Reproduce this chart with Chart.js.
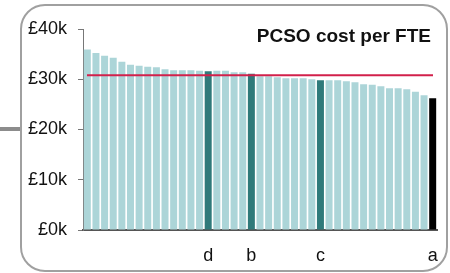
<!DOCTYPE html>
<html>
<head>
<meta charset="utf-8">
<script src="https://cdn.jsdelivr.net/npm/chart.js@4"></script>
<style>
  html, body { margin: 0; padding: 0; background: #fff; }
  #wrap { width: 450px; height: 273px; }
</style>
</head>
<body>
<div id="wrap"><canvas id="costChart" width="450" height="273"></canvas></div>
<script>
// PCSO cost per FTE, £ thousands, one bar per force (sorted high to low)
const forceLabels = ['', '', '', '', '', '', '', '', '', '', '', '', '', '', 'd',
  '', '', '', '', 'b', '', '', '', '', '', '', '', 'c', '', '', '', '', '', '', '', '', '', '', '', '', 'a'];
const costPerFte = [35.9, 35.2, 34.7, 34.3, 33.5, 32.9, 32.7, 32.5, 32.4, 32.0,
  31.8, 31.8, 31.8, 31.7, 31.6, 31.7, 31.7, 31.4, 31.4, 31.1,
  30.6, 30.6, 30.4, 30.2, 30.2, 30.2, 30.0, 29.8, 29.8, 29.8,
  29.6, 29.4, 29.0, 28.9, 28.6, 28.2, 28.2, 28.0, 27.5, 26.8, 26.2];
const averageCost = 30.8;
const yTicks = [0, 10, 20, 30, 40];
const chartTitle = 'PCSO cost per FTE';

const lightBar = '#acd5d8';
const darkBar = '#2f7a7a';

const barColors = forceLabels.map(function(lbl) {
  if (lbl === 'a') return '#000000';
  if (lbl !== '') return darkBar;
  return lightBar;
});

// frame, side connector, title and average line
const decorPlugin = {
  id: 'decor',
  beforeDraw: function(chart) {
    const ctx = chart.ctx;
    ctx.save();
    ctx.fillStyle = '#8c8c8c';
    ctx.fillRect(0, 127, 21, 4);
    ctx.strokeStyle = '#a0a0a0';
    ctx.lineWidth = 2;
    ctx.beginPath();
    ctx.roundRect(21, 5, 426, 266, 24);
    ctx.stroke();
    ctx.restore();
  },
  afterDatasetsDraw: function(chart) {
    const ctx = chart.ctx;
    const area = chart.chartArea;
    const y = chart.scales.y.getPixelForValue(averageCost);
    ctx.save();
    ctx.strokeStyle = '#d2204b';
    ctx.lineWidth = 2;
    ctx.beginPath();
    ctx.moveTo(area.left + 4, y);
    ctx.lineTo(area.right - 4, y);
    ctx.stroke();

    ctx.fillStyle = '#111';
    ctx.font = 'bold 19px "Liberation Sans", Arial, sans-serif';
    ctx.textAlign = 'right';
    ctx.textBaseline = 'middle';
    ctx.fillText(chartTitle, 431, 37);
    ctx.restore();
  }
};

new Chart(document.getElementById('costChart'), {
  type: 'bar',
  data: {
    labels: forceLabels,
    datasets: [{
      data: costPerFte,
      backgroundColor: barColors,
      borderWidth: 0,
      barPercentage: 0.81,
      categoryPercentage: 1
    }]
  },
  options: {
    responsive: false,
    animation: false,
    layout: { padding: { top: 29, right: 13, left: 0, bottom: 0 } },
    plugins: {
      legend: { display: false },
      tooltip: { enabled: false }
    },
    scales: {
      x: {
        grid: { display: false },
        border: { display: true, color: '#555', width: 2 },
        ticks: {
          autoSkip: false,
          maxRotation: 0,
          padding: 7,
          color: '#111',
          font: { family: '"Liberation Sans", Arial, sans-serif', size: 18 }
        },
        afterFit: function(scale) { scale.height = 43; }
      },
      y: {
        min: 0,
        max: 40,
        afterBuildTicks: function(scale) {
          scale.ticks = yTicks.map(function(v) { return { value: v }; });
        },
        grid: { drawOnChartArea: false, drawTicks: true, tickLength: 5, color: '#777' },
        border: { display: true, color: '#777', width: 1 },
        ticks: {
          padding: 11,
          color: '#111',
          font: { family: '"Liberation Sans", Arial, sans-serif', size: 18 },
          callback: function(v) { return '£' + v + 'k'; }
        },
        afterFit: function(scale) { scale.width = 83; }
      }
    }
  },
  plugins: [decorPlugin]
});
</script>
</body>
</html>
